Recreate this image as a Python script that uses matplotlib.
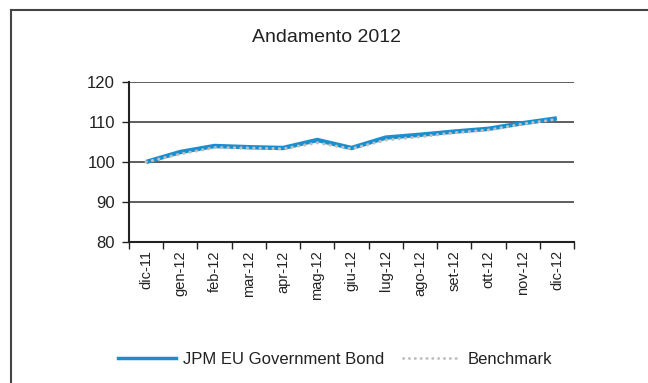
import matplotlib
matplotlib.use("Agg")
import matplotlib.pyplot as plt
from matplotlib.lines import Line2D

categories = ["dic-11", "gen-12", "feb-12", "mar-12", "apr-12", "mag-12", "giu-12",
              "lug-12", "ago-12", "set-12", "ott-12", "nov-12", "dic-12"]
fund = [100.0, 102.5, 104.0, 103.7, 103.5, 105.5, 103.5, 106.1, 106.8, 107.6, 108.3, 109.7, 110.9]
benchmark = [100.0, 102.0, 103.6, 103.5, 103.3, 104.8, 103.3, 105.5, 106.3, 107.3, 108.0, 109.5, 110.7]
yticks = [80, 90, 100, 110, 120]

plt.rcParams['font.family'] = ['Liberation Sans', 'DejaVu Sans']

fig = plt.figure(figsize=(6.48, 3.83), dpi=100)
ax = fig.add_axes([129/648, 1 - 242/383, (574 - 129)/648, (242 - 82)/383])

x = list(range(len(categories)))
ax.plot(x, fund, color="#1a8fd0", lw=3.2, solid_capstyle="butt", solid_joinstyle="miter",
        label="JPM EU Government Bond", zorder=3)
ax.plot(x, benchmark, color="#bdbdbd", lw=2.2, linestyle=(0, (0.1, 2.0)),
        dash_capstyle="round", label="Benchmark", zorder=4)

ax.set_xlim(-0.5, len(categories) - 0.5)
ax.set_ylim(80, 120)
ax.set_yticks(yticks)
ax.set_yticklabels([str(v) for v in yticks], fontsize=12, color="#222222")
ax.set_xticks([i - 0.5 for i in range(len(categories) + 1)])
ax.set_xticklabels([])
ax.set_xticks(x, minor=True)
ax.set_xticklabels(categories, minor=True, rotation=90, fontsize=10.5, color="#222222")
ax.tick_params(axis="x", which="minor", length=0, pad=6)
ax.tick_params(axis="x", which="major", length=5, width=1, color="#222222", direction="out")
ax.tick_params(axis="y", length=5, width=1, color="#222222", direction="out", pad=5)

for v in yticks[1:]:
    ax.axhline(v, color="#333333", lw=1.1, zorder=1)
for s in ["top", "right"]:
    ax.spines[s].set_visible(False)
ax.spines["left"].set_color("#222222")
ax.spines["left"].set_linewidth(1.5)
ax.spines["bottom"].set_color("#222222")
ax.spines["bottom"].set_linewidth(1.5)

fig.text(327/648, 1 - 37/383, "Andamento 2012", ha="center", va="center", fontsize=14, color="#222222")

handles = [Line2D([], [], color="#1a8fd0", lw=2.5),
           Line2D([], [], color="#bdbdbd", lw=2.0, linestyle=(0, (0.1, 2.0)), dash_capstyle="round")]
fig.legend(handles, ["JPM EU Government Bond", "Benchmark"], loc="center",
           bbox_to_anchor=(335/648, 1 - 359/383), ncol=2, frameon=False, fontsize=12,
           handlelength=3.5, handletextpad=0.4, columnspacing=1.1, labelcolor="#222222")

# outer border (top and left visible)
fig.add_artist(Line2D([11/648, 1], [1 - 10/383, 1 - 10/383], color="#444444", lw=1.5,
                      transform=fig.transFigure))
fig.add_artist(Line2D([11/648, 11/648], [0, 1 - 10/383], color="#444444", lw=1.5,
                      transform=fig.transFigure))

fig.savefig("out.png", dpi=100)
